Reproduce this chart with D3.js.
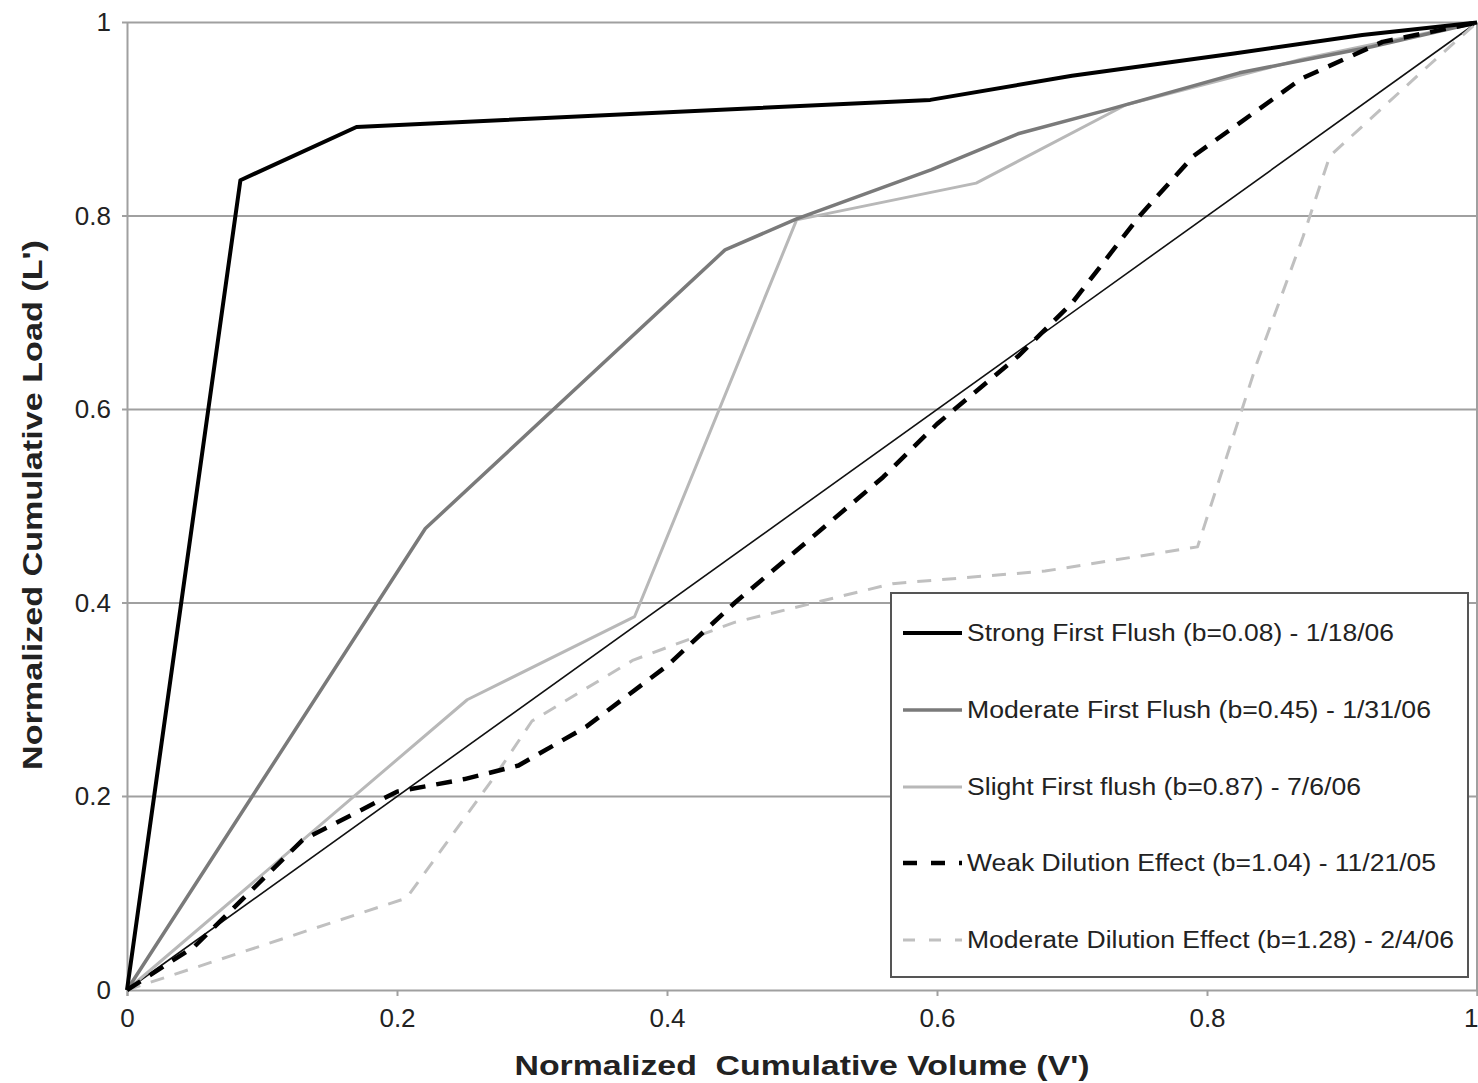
<!DOCTYPE html>
<html><head><meta charset="utf-8">
<script src="https://cdn.jsdelivr.net/npm/d3@7"></script>
<style>body{margin:0;background:#fff}svg{display:block}text{font-family:"Liberation Sans",Arial,sans-serif}</style>
</head><body><svg id="c" width="1478" height="1083"></svg>
<script>
// Data (V', L')
const strongV   = [0, 0.084, 0.17, 0.595, 0.7, 0.82, 0.915, 1];
const strongL   = [0, 0.837, 0.892, 0.92, 0.945, 0.968, 0.987, 1];
const modFFV    = [0, 0.221, 0.443, 0.496, 0.596, 0.66, 0.727, 0.824, 0.922, 1];
const modFFL    = [0, 0.477, 0.765, 0.797, 0.848, 0.885, 0.91, 0.948, 0.975, 1];
const slightV   = [0, 0.252, 0.376, 0.496, 0.629, 0.74, 0.87, 1];
const slightL   = [0, 0.30, 0.386, 0.796, 0.834, 0.915, 0.962, 1];
const weakV     = [0, 0.05, 0.13, 0.2, 0.25, 0.29, 0.34, 0.4, 0.45, 0.56, 0.6, 0.66, 0.7, 0.75, 0.79, 0.87, 0.93, 1];
const weakL     = [0, 0.045, 0.155, 0.205, 0.218, 0.232, 0.272, 0.335, 0.4, 0.53, 0.585, 0.655, 0.71, 0.8, 0.862, 0.942, 0.98, 1];
const modDilV   = [0, 0.207, 0.274, 0.30, 0.375, 0.45, 0.567, 0.68, 0.793, 0.837, 0.871, 0.891, 0.963, 1];
const modDilL   = [0, 0.095, 0.224, 0.278, 0.341, 0.38, 0.42, 0.433, 0.458, 0.648, 0.778, 0.862, 0.954, 1];
const refV = [0, 1];
const refL = [0, 1];
const xTicks = [0, 0.2, 0.4, 0.6, 0.8, 1];
const yTicks = [0, 0.2, 0.4, 0.6, 0.8, 1];
const seriesNames = [
  "Strong First Flush (b=0.08) - 1/18/06",
  "Moderate First Flush (b=0.45) - 1/31/06",
  "Slight First flush (b=0.87) - 7/6/06",
  "Weak Dilution Effect (b=1.04) - 11/21/05",
  "Moderate Dilution Effect (b=1.28) - 2/4/06"
];

const svg = d3.select("#c");
const x = d3.scaleLinear().domain([0,1]).range([127,1477]);
const y = d3.scaleLinear().domain([0,1]).range([990,22.5]);

// gridlines
svg.append("g").selectAll("line").data(yTicks.filter(d=>d>0)).join("line")
  .attr("x1",x(0)-5).attr("x2",x(1)).attr("y1",d=>y(d)).attr("y2",d=>y(d))
  .attr("stroke","#a0a0a0").attr("stroke-width",2);
// right border
svg.append("line").attr("x1",x(1)).attr("x2",x(1)).attr("y1",y(1)).attr("y2",y(0))
  .attr("stroke","#a0a0a0").attr("stroke-width",2);

// axes
const xAxis = svg.append("g").attr("transform",`translate(0,${y(0)})`)
  .call(d3.axisBottom(x).tickValues(xTicks).tickFormat(d3.format("")).tickSize(6).tickPadding(8));
const yAxis = svg.append("g").attr("transform",`translate(${x(0)},0)`)
  .call(d3.axisLeft(y).tickValues(yTicks).tickFormat(d3.format("")).tickSize(0).tickPadding(16));
[xAxis,yAxis].forEach(a=>{
  a.select(".domain").attr("stroke","#a0a0a0").attr("stroke-width",2);
  a.selectAll(".tick line").attr("stroke","#a0a0a0").attr("stroke-width",2);
  a.selectAll("text").attr("font-size",26).attr("fill","#222").attr("font-family",'"Liberation Sans",Arial,sans-serif');
});
xAxis.selectAll("text").attr("dy","0.9em");
// keep the last x tick label inside the picture
xAxis.selectAll(".tick text").filter(d=>d===1).attr("text-anchor","end").attr("x",1);

const line = d3.line().x(d=>x(d[0])).y(d=>y(d[1]));
const zip = (a,b)=>a.map((v,i)=>[v,b[i]]);

const series = [
  {v:strongV,l:strongL,color:"#000",w:4,dash:null},
  {v:modFFV,l:modFFL,color:"#7a7a7a",w:3.5,dash:null},
  {v:slightV,l:slightL,color:"#b8b8b8",w:3,dash:null},
  {v:weakV,l:weakL,color:"#000",w:4.5,dash:"16,11"},
  {v:modDilV,l:modDilL,color:"#c0c0c0",w:3,dash:"14,11"}
];

// 1:1 reference line
svg.append("path").attr("d",line(zip(refV,refL))).attr("fill","none").attr("stroke","#111").attr("stroke-width",1.6);

// draw back to front
[4,2,1,3,0].forEach(i=>{
  const s = series[i];
  svg.append("path").attr("d",line(zip(s.v,s.l))).attr("fill","none")
    .attr("stroke",s.color).attr("stroke-width",s.w)
    .attr("stroke-dasharray",s.dash).attr("stroke-linejoin","round");
});

// legend
const lg = svg.append("g");
lg.append("rect").attr("x",891).attr("y",593).attr("width",577).attr("height",384)
  .attr("fill","#fff").attr("stroke","#555").attr("stroke-width",2);
const rowY = [633,710,787,863,940];
const textW = [427,464,394,469,487];
series.forEach((s,i)=>{
  lg.append("line").attr("x1",903).attr("x2",962).attr("y1",rowY[i]).attr("y2",rowY[i])
    .attr("stroke",s.color).attr("stroke-width",s.w).attr("stroke-dasharray",s.dash ? (i===3?"14,14":"12,14") : null);
  lg.append("text").attr("x",967).attr("y",rowY[i]).attr("dy","0.36em")
    .attr("font-size",23).attr("fill","#222")
    .attr("textLength",textW[i]).attr("lengthAdjust","spacingAndGlyphs")
    .text(seriesNames[i]);
});

// axis titles
svg.append("text").attr("x",802).attr("y",1075).attr("text-anchor","middle")
  .attr("font-size",27).attr("font-weight","bold").attr("fill","#222")
  .attr("textLength",575).attr("lengthAdjust","spacingAndGlyphs")
  .attr("xml:space","preserve")
  .text("Normalized  Cumulative Volume (V')");
svg.append("text").attr("transform","translate(42,505) rotate(-90)").attr("text-anchor","middle")
  .attr("font-size",27).attr("font-weight","bold").attr("fill","#222")
  .attr("textLength",530).attr("lengthAdjust","spacingAndGlyphs")
  .text("Normalized Cumulative Load (L')");
</script></body></html>
